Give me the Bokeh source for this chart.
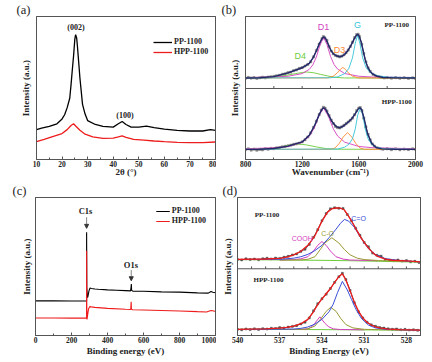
from bokeh.plotting import figure
from bokeh.layouts import column, row
from bokeh.models import Range1d, FixedTicker, Label, Legend, LegendItem, Span, Arrow, NormalHead, LinearAxis
from bokeh.embed import file_html
from bokeh.resources import INLINE

SERIF = "Liberation Serif"
SANS = "Liberation Sans"
FRAME = "#555555"

# ---------------- (a) XRD ----------------
a_ticks = [10, 20, 30, 40, 50, 60, 70, 80]
a_minor = [15, 25, 35, 45, 55, 65, 75]
a_x_pp = [10, 12, 15, 18, 20, 21, 22, 23, 23.5, 24, 24.5, 25, 25.3, 25.7, 26, 26.5, 27, 28, 29, 30, 33, 36, 40, 42, 43.5, 45, 47, 50, 53, 56, 60, 65, 70, 75, 78, 80]
a_y_pp = [30.7, 32.3, 34, 36.7, 41.7, 46, 53.3, 63, 76.7, 92, 106.7, 124, 128.3, 125, 116.7, 100, 83.3, 56.7, 46.7, 40, 36, 34, 33.3, 36.7, 39, 36, 33.3, 33.3, 34.3, 32.7, 31.3, 30, 29.3, 29.3, 30.7, 30]
a_x_hpp = [10, 13, 16, 20, 22, 23.5, 24.5, 25.5, 27, 29, 32, 36, 40, 42, 43.5, 45, 48, 52, 56, 60, 65, 70, 75, 80]
a_y_hpp = [18.3, 20.7, 23.3, 26.7, 30.7, 35, 36.7, 34, 30, 26, 23.3, 21.7, 22, 23.3, 24.3, 22.7, 20.7, 20, 19, 18.3, 17.7, 17.3, 17.3, 18]

# ---------------- (b) Raman ----------------
b_ticks = [800, 1200, 1600, 2000]
b_minor = [1000, 1400, 1800]
b_div_ticks = [1000, 1200, 1400, 1600, 1800]
b_top_x = [800, 820, 840, 860, 880, 900, 920, 940, 960, 980, 1000, 1020, 1040, 1060, 1080, 1100, 1120, 1140, 1160, 1180, 1200, 1220, 1240, 1260, 1280, 1300, 1320, 1340, 1350, 1360, 1375, 1390, 1405, 1420, 1435, 1450, 1465, 1480, 1495, 1510, 1525, 1540, 1555, 1570, 1585, 1595, 1605, 1620, 1635, 1650, 1665, 1680, 1700, 1720, 1740, 1760, 1780, 1800, 1830, 1860, 1890, 1920, 1950, 1980, 2000]
b_top_y = [82.4, 83.2, 82.6, 83.0, 82.3, 82.9, 83.4, 82.8, 83.6, 83.9, 84.3, 84.9, 85.3, 86.4, 86.9, 88.0, 88.6, 90.1, 90.8, 92.4, 93.2, 94.8, 96.5, 99.0, 104.0, 110.5, 117.0, 122.5, 124.6, 123.4, 120.8, 114.5, 110.0, 107.2, 105.6, 104.8, 104.0, 104.9, 106.2, 108.4, 111.0, 114.6, 119.0, 123.5, 126.6, 127.0, 124.5, 117.0, 107.5, 99.0, 93.0, 89.3, 86.4, 84.6, 83.8, 83.2, 82.7, 83.1, 82.5, 83.0, 82.4, 82.9, 82.3, 82.8, 82.2]
b_top_fit_x = [800, 900, 1000, 1100, 1200, 1250, 1280, 1300, 1320, 1340, 1351, 1365, 1380, 1400, 1420, 1440, 1460, 1480, 1500, 1520, 1540, 1560, 1575, 1590, 1600, 1615, 1630, 1645, 1660, 1680, 1700, 1730, 1770, 1850, 2000]
b_top_fit_y = [82.7, 82.9, 84.0, 87.8, 93.0, 97.5, 103.8, 110.0, 117.0, 122.5, 124.3, 122.8, 118.0, 111.5, 107.2, 105.2, 104.4, 104.6, 106.5, 110.0, 114.5, 120.0, 124.5, 126.8, 125.8, 120.0, 110.5, 101.0, 94.5, 89.3, 86.5, 84.4, 83.2, 82.8, 82.6]
b_top_d4_x = [800, 950, 1050, 1100, 1150, 1200, 1233, 1280, 1330, 1380, 1430, 1500, 2000]
b_top_d4_y = [82.7, 83.0, 84.3, 85.7, 87.0, 88.2, 88.7, 88.0, 86.3, 84.7, 83.3, 82.7, 82.7]
b_top_d1_x = [800, 1000, 1100, 1200, 1250, 1275, 1300, 1325, 1351, 1375, 1400, 1425, 1450, 1500, 1600, 1700, 2000]
b_top_d1_y = [83.1, 83.6, 84.4, 87.1, 91.4, 95.9, 103.8, 115.6, 123.7, 116.6, 104.6, 96.4, 91.7, 87.2, 84.4, 83.6, 83.1]
b_top_d3_x = [800, 1380, 1420, 1450, 1470, 1487, 1505, 1525, 1555, 1600, 2000]
b_top_d3_y = [82.7, 82.7, 84.5, 88.0, 91.5, 93.3, 91.5, 88.0, 84.5, 82.7, 82.7]
b_top_g_x = [800, 1400, 1450, 1500, 1530, 1555, 1575, 1591, 1607, 1627, 1650, 1680, 1730, 1800, 2000]
b_top_g_y = [82.7, 82.9, 83.8, 87.0, 92.5, 103.0, 118.0, 126.0, 118.0, 103.0, 93.5, 88.2, 85.0, 83.5, 82.9]

b_bot_x = [800, 820, 840, 860, 880, 900, 920, 940, 960, 980, 1000, 1020, 1040, 1060, 1080, 1100, 1120, 1140, 1160, 1180, 1200, 1220, 1240, 1260, 1280, 1300, 1320, 1335, 1350, 1362, 1375, 1390, 1405, 1420, 1435, 1450, 1465, 1480, 1495, 1510, 1525, 1540, 1555, 1570, 1585, 1600, 1610, 1622, 1635, 1650, 1665, 1680, 1695, 1710, 1730, 1750, 1770, 1800, 1830, 1860, 1890, 1920, 1950, 1980, 2000]
b_bot_y = [10.0, 10.8, 9.6, 10.5, 9.4, 10.2, 9.8, 10.9, 10.4, 11.2, 11.0, 11.8, 12.0, 12.9, 13.3, 13.9, 14.6, 15.4, 15.8, 16.6, 17.9, 20.0, 22.8, 27.0, 32.5, 38.8, 45.5, 50.2, 53.0, 52.0, 49.2, 44.5, 40.0, 36.4, 33.6, 32.4, 32.0, 33.2, 34.6, 36.3, 38.0, 39.8, 42.0, 45.4, 49.5, 52.2, 52.6, 49.5, 42.0, 33.0, 25.5, 19.8, 15.8, 13.5, 11.8, 11.0, 10.4, 10.8, 10.0, 10.7, 9.9, 10.6, 10.1, 10.8, 10.2]
b_bot_fit_x = [800, 900, 1000, 1100, 1200, 1250, 1290, 1320, 1340, 1351, 1365, 1385, 1410, 1440, 1465, 1490, 1520, 1550, 1575, 1595, 1608, 1620, 1640, 1660, 1690, 1720, 1760, 1850, 2000]
b_bot_fit_y = [10.3, 10.4, 11.2, 13.6, 17.8, 24.5, 35.0, 45.5, 51.0, 52.4, 51.0, 45.5, 38.5, 33.4, 32.2, 33.8, 37.2, 41.3, 46.5, 51.2, 52.5, 50.5, 40.0, 27.0, 16.5, 12.3, 10.8, 10.4, 10.3]
b_bot_d4_x = [800, 950, 1050, 1120, 1174, 1230, 1300, 1370, 1450, 2000]
b_bot_d4_y = [10.3, 10.8, 12.5, 14.6, 15.7, 14.8, 12.8, 11.0, 10.4, 10.3]
b_bot_d1_x = [800, 1000, 1100, 1200, 1250, 1285, 1320, 1351, 1385, 1420, 1450, 1500, 1600, 1700, 2000]
b_bot_d1_y = [10.9, 11.9, 13.2, 17.4, 23.5, 31.9, 45.0, 52.3, 43.9, 31.0, 23.8, 17.6, 13.2, 11.9, 10.9]
b_bot_d3_x = [800, 1400, 1430, 1460, 1490, 1520, 1550, 1580, 1610, 1640, 2000]
b_bot_d3_y = [10.3, 10.3, 11.5, 16.0, 22.8, 27.3, 22.8, 16.0, 11.5, 10.3, 10.3]
b_bot_g_x = [800, 1450, 1500, 1530, 1555, 1575, 1592, 1610, 1628, 1645, 1665, 1690, 1720, 1780, 2000]
b_bot_g_y = [10.3, 10.6, 12.5, 15.5, 21.0, 31.0, 45.0, 52.3, 45.0, 31.0, 21.0, 15.5, 12.5, 10.8, 10.3]

# ---------------- (c) XPS survey ----------------
c_ticks = [0, 200, 400, 600, 800, 1000]
c_minor = [100, 300, 500, 700, 900]
c_x_pp = [0, 100, 200, 283.8, 284.0, 285.0, 286.5, 289, 292, 297, 303, 310, 330, 350, 400, 450, 500, 528, 531, 532.5, 534, 540, 600, 700, 800, 900, 960, 975, 985, 1000]
c_y_pp = [35.7, 35.8, 35.6, 35.7, 106.5, 50, 45, 39, 41, 46, 49, 48.5, 48, 47.7, 47, 46.7, 46.3, 46, 50, 53, 46.5, 45.8, 45.7, 45, 44.7, 44, 43.7, 45.3, 44.6, 44]
c_x_hpp = [0, 100, 200, 283.6, 284.0, 285.0, 286.5, 288, 291, 295, 302, 310, 330, 400, 500, 529, 531.5, 533, 540, 600, 700, 800, 900, 950, 975, 985, 1000]
c_y_hpp = [18, 18.1, 17.9, 18, 87.3, 30, 16.5, 19, 23, 27.5, 29.8, 29.5, 29, 28, 27, 26.8, 34.7, 27, 26.6, 26.3, 25.8, 25.3, 24.6, 24.3, 25.8, 25.5, 24.7]

# ---------------- (d) O1s ----------------
d_ticks = [540, 537, 534, 531, 528]
d_minor = [539, 538, 536, 535, 533, 532, 530, 529, 527]
d_div_ticks = [539, 538, 537, 536, 535, 534, 533, 532, 531, 530, 529, 528]
d_top_x = [540.0, 539.7, 539.4, 539.1, 538.8, 538.5, 538.2, 537.9, 537.6, 537.3, 537.0, 536.7, 536.4, 536.1, 535.8, 535.5, 535.2, 534.9, 534.6, 534.3, 534.0, 533.7, 533.4, 533.1, 532.8, 532.5, 532.2, 531.9, 531.6, 531.3, 531.0, 530.7, 530.4, 530.1, 529.8, 529.5, 529.2, 528.9, 528.6, 528.3, 528.0, 527.7, 527.4, 527.1]
d_top_y = [80.2, 79.6, 80.8, 80.0, 80.6, 79.8, 80.9, 81.4, 80.7, 81.6, 81.2, 82.5, 83.4, 84.9, 86.0, 88.6, 90.8, 96.0, 103.5, 111.5, 121.0, 128.5, 133.5, 134.6, 134.0, 133.8, 127.5, 121.0, 113.0, 105.5, 98.0, 93.5, 86.8, 84.5, 83.6, 80.2, 79.5, 78.8, 79.6, 78.4, 78.9, 77.6, 78.2, 76.9]
d_top_fit_x = [540, 538, 537, 536.5, 536, 535.5, 535, 534.5, 534, 533.6, 533.3, 533.0, 532.7, 532.4, 532.1, 531.8, 531.5, 531.2, 530.9, 530.6, 530.3, 530.0, 529.5, 529, 528, 527]
d_top_fit_y = [80.2, 80.6, 81.2, 82.6, 85.0, 88.8, 95.0, 105.0, 120.5, 130.0, 133.5, 134.5, 134.3, 132.2, 125.5, 118.0, 110.0, 102.3, 96.0, 90.5, 86.0, 83.0, 80.5, 79.3, 78.6, 77.6]
d_top_base_x = [540, 537, 534, 532, 530, 528, 527]
d_top_base_y = [80.0, 79.6, 79.2, 78.8, 78.2, 77.6, 77.3]
d_top_co_x = [540, 537, 536, 535.5, 535, 534.5, 534, 533.5, 533, 532.7, 532.4, 532.1, 531.7, 531.2, 530.7, 530.2, 529.5, 528.5, 527]
d_top_co_y = [80.0, 80.3, 81.5, 83.0, 85.5, 89.5, 95.0, 103.0, 112.0, 118.0, 122.3, 120.5, 114.0, 102.0, 91.5, 85.0, 81.0, 79.0, 77.5]
d_top_c_o_x = [537, 535.5, 535, 534.5, 534.1, 533.8, 533.3, 532.8, 532.4, 532, 531.5, 531, 530, 528]
d_top_c_o_y = [79.5, 79.6, 80.3, 83.0, 91.0, 97.5, 103.0, 97.5, 90.5, 85.0, 81.5, 80.0, 79.0, 78.0]
d_top_cooh_x = [537, 536, 535.5, 535, 534.6, 534.3, 534, 533.7, 533.4, 533, 532.5, 532, 530]
d_top_cooh_y = [79.6, 80.0, 80.8, 83.0, 89.0, 95.0, 99.0, 95.0, 89.0, 83.0, 80.5, 79.5, 78.8]

d_bot_x = [540.0, 539.7, 539.4, 539.1, 538.8, 538.5, 538.2, 537.9, 537.6, 537.3, 537.0, 536.7, 536.4, 536.1, 535.8, 535.5, 535.2, 534.9, 534.6, 534.3, 534.0, 533.7, 533.4, 533.1, 532.8, 532.55, 532.3, 532.0, 531.7, 531.4, 531.1, 530.8, 530.5, 530.2, 529.9, 529.6, 529.3, 529.0, 528.7, 528.4, 528.1, 527.8, 527.5, 527.2]
d_bot_y = [6.5, 6.0, 6.9, 6.2, 7.0, 6.4, 7.2, 6.8, 7.6, 7.4, 8.3, 8.0, 8.9, 9.6, 10.4, 12.2, 14.0, 18.5, 26.0, 33.5, 38.8, 43.5, 49.5, 56.0, 62.0, 65.5, 59.0, 47.5, 34.5, 25.0, 18.5, 14.0, 11.2, 9.8, 8.4, 7.9, 7.0, 6.6, 6.9, 6.1, 6.5, 5.7, 6.0, 5.4]
d_bot_fit_x = [540, 538, 537, 536.5, 536, 535.5, 535, 534.6, 534.3, 534, 533.7, 533.4, 533.1, 532.8, 532.55, 532.3, 532.0, 531.7, 531.4, 531.1, 530.8, 530.5, 530.2, 529.8, 529.3, 528.5, 527]
d_bot_fit_y = [6.4, 6.9, 7.8, 8.6, 9.9, 12.4, 17.0, 25.0, 32.5, 38.5, 44.0, 49.5, 56.0, 62.0, 65.0, 58.5, 47.0, 35.0, 25.5, 18.5, 14.0, 11.0, 9.2, 7.8, 6.8, 6.2, 5.6]
d_bot_base_x = [540, 534, 530, 527]
d_bot_base_y = [6.5, 6.2, 5.8, 5.5]
d_bot_co_x = [540, 536, 535.5, 535, 534.5, 534, 533.5, 533.2, 532.9, 532.55, 532.2, 531.9, 531.6, 531.2, 530.7, 530.2, 529.5, 528, 527]
d_bot_co_y = [6.3, 6.8, 7.5, 9.0, 12.0, 17.0, 25.0, 33.0, 45.0, 57.0, 48.0, 38.0, 28.0, 18.0, 11.0, 8.0, 6.5, 5.8, 5.5]
d_bot_c_o_x = [537, 535.5, 535, 534.5, 534.06, 533.7, 533.38, 533.0, 532.67, 532.3, 531.8, 531, 530, 528]
d_bot_c_o_y = [6.3, 6.4, 7.0, 10.0, 18.0, 25.5, 29.7, 25.5, 18.0, 11.5, 8.0, 6.5, 6.2, 5.8]
d_bot_cooh_x = [537, 535.5, 535, 534.7, 534.5, 534.15, 533.8, 533.55, 533.2, 532.7, 531]
d_bot_cooh_y = [6.3, 6.4, 7.0, 9.5, 13.0, 19.7, 13.0, 9.5, 7.0, 6.3, 6.0]

series_names = ["PP-1100", "HPP-1100"]
panel_letters = ["(a)", "(b)", "(c)", "(d)"]

C_MAG = "#d43fbf"
C_GRN = "#6ccc3a"
C_ORG = "#ff8a33"
C_CYN = "#35c4d8"
C_NAVY = "#23296b"
C_RED = "#ee1c1c"
C_BLUE = "#3b4fd8"
C_OLIVE = "#9b9a35"


def base(width, height, xr, yr, left, right, top, bottom, letter, offset):
    p = figure(width=width, height=height, x_range=xr, y_range=yr,
               output_backend="svg", toolbar_location=None,
               min_border_left=left, min_border_right=right,
               min_border_top=top, min_border_bottom=bottom)
    p.xgrid.visible = False
    p.ygrid.visible = False
    p.outline_line_color = FRAME
    p.outline_line_width = 1
    p.title.text = letter
    p.title.align = "left"
    p.title.offset = offset
    p.title.standoff = 0
    p.title.text_font = SERIF
    p.title.text_font_style = "normal"
    p.title.text_font_size = "12.5px"
    p.title.text_line_height = 0.9
    p.title.text_color = "#222222"
    for side in ("right", "above"):
        ax = LinearAxis(ticker=FixedTicker(ticks=[]), axis_line_color=FRAME,
                        major_tick_in=0, major_tick_out=0, minor_tick_in=0, minor_tick_out=0,
                        major_label_standoff=0, axis_label_standoff=0)
        p.add_layout(ax, side)
    return p


def style(p, xlabel, ticks, minor, ylab_standoff, xlab_standoff):
    xa = p.below[0]
    xa.ticker = FixedTicker(ticks=ticks, minor_ticks=minor)
    xa.axis_label = xlabel
    xa.axis_line_color = FRAME
    xa.major_tick_in = 3
    xa.major_tick_out = 0
    xa.minor_tick_in = 2
    xa.minor_tick_out = 0
    xa.major_tick_line_color = FRAME
    xa.minor_tick_line_color = FRAME
    xa.major_label_standoff = 1
    xa.major_label_text_font = SERIF
    xa.major_label_text_font_style = "bold"
    xa.major_label_text_font_size = "7.5px"
    xa.major_label_text_line_height = 1.0
    xa.major_label_text_color = "#222222"
    xa.axis_label_standoff = xlab_standoff
    xa.axis_label_text_font = SERIF
    xa.axis_label_text_font_style = "bold"
    xa.axis_label_text_font_size = "9px"
    xa.axis_label_text_line_height = 1.0
    xa.axis_label_text_color = "#222222"
    ya = p.left[0]
    ya.ticker = FixedTicker(ticks=[])
    ya.axis_line_color = FRAME
    ya.major_tick_line_color = None
    ya.minor_tick_line_color = None
    ya.major_tick_in = 0
    ya.major_tick_out = 0
    ya.minor_tick_out = 0
    ya.major_label_standoff = 0
    ya.axis_label = "Intensity (a.u.)"
    ya.axis_label_standoff = ylab_standoff
    ya.axis_label_text_font = SERIF
    ya.axis_label_text_font_style = "bold"
    ya.axis_label_text_font_size = "9px"
    ya.axis_label_text_color = "#222222"


def txt(p, x, y, s, font=SERIF, size="8px", color="#222222", bold=True):
    p.add_layout(Label(x=x, y=y, text=s, text_font=font, text_font_size=size,
                       text_color=color, text_font_style="bold" if bold else "normal",
                       text_align="center", text_baseline="middle"))


def legend(p, r1, r2, gw, location, margin, padding):
    lg = Legend(items=[LegendItem(label=series_names[0], renderers=[r1]),
                       LegendItem(label=series_names[1], renderers=[r2])],
                location=location, glyph_width=gw, glyph_height=8, label_height=8,
                label_standoff=2, spacing=1, padding=padding, margin=margin,
                border_line_alpha=0, background_fill_alpha=0,
                label_text_font=SERIF, label_text_font_style="bold",
                label_text_font_size="8px", label_text_color="#222222")
    p.add_layout(lg)


# ---- panel a ----
pa = base(216, 181, Range1d(10, 80), Range1d(0, 147), 36, 1, 12, 21, panel_letters[0], -20)
style(pa, "2θ (°)", a_ticks, a_minor, 6, -3)
ra1 = pa.line(a_x_pp, a_y_pp, line_color="black", line_width=1.3)
ra2 = pa.line(a_x_hpp, a_y_hpp, line_color=C_RED, line_width=1.3)
legend(pa, ra1, ra2, 19, (117, 103), 0, 0)
txt(pa, 25.4, 136, "(002)")
txt(pa, 44.6, 45, "(100)")

# ---- panel b ----
pb = base(216, 181, Range1d(800, 2000), Range1d(0, 145), 29, 17, 13, 22, panel_letters[1], -24)
style(pb, "Wavenumber (cm⁻¹)", b_ticks, b_minor, 6, -3)
pb.add_layout(Span(location=72, dimension="width", line_color=FRAME, line_width=1))
pb.segment(x0=b_div_ticks, y0=[72] * len(b_div_ticks), x1=b_div_ticks, y1=[74.5] * len(b_div_ticks), line_color=FRAME)
for xs, ys in ((b_top_x, b_top_y), (b_bot_x, b_bot_y)):
    pb.line(xs, ys, line_color="#333333", line_width=0.8)
    pb.scatter(xs, ys, marker="square", size=2.2, fill_color="#888888", line_color="#666666", line_width=0.4)
for (xs, ys, c) in ((b_top_d4_x, b_top_d4_y, C_GRN), (b_top_d1_x, b_top_d1_y, C_MAG),
                    (b_top_d3_x, b_top_d3_y, C_ORG), (b_top_g_x, b_top_g_y, C_CYN),
                    (b_bot_d4_x, b_bot_d4_y, C_GRN), (b_bot_d1_x, b_bot_d1_y, C_MAG),
                    (b_bot_d3_x, b_bot_d3_y, C_ORG), (b_bot_g_x, b_bot_g_y, C_CYN)):
    pb.line(xs, ys, line_color=c, line_width=0.9)
pb.line(b_top_fit_x, b_top_fit_y, line_color=C_NAVY, line_width=1.4)
pb.line(b_bot_fit_x, b_bot_fit_y, line_color=C_NAVY, line_width=1.4)
txt(pb, 1351, 134.5, "D1", font=SANS, size="9px", color=C_MAG, bold=False)
txt(pb, 1591, 136, "G", font=SANS, size="9px", color=C_CYN, bold=False)
txt(pb, 1463, 111.5, "D3", font=SANS, size="9px", color=C_ORG, bold=False)
txt(pb, 1186, 104.5, "D4", font=SANS, size="9px", color=C_GRN, bold=False)
txt(pb, 1868, 136, "PP-1100", size="7px")
txt(pb, 1868, 58, "HPP-1100", size="7px")

# ---- panel c ----
pc = base(216, 181, Range1d(0, 1000), Range1d(0, 142.3), 35, 1, 11, 26, panel_letters[2], -23)
style(pc, "Binding energy (eV)", c_ticks, c_minor, 4, 0)
rc1 = pc.line(c_x_pp, c_y_pp, line_color="black", line_width=1.1)
rc2 = pc.line(c_x_hpp, c_y_hpp, line_color=C_RED, line_width=1.1)
legend(pc, rc1, rc2, 14, "top_right", 6, 3)
txt(pc, 278, 128.5, "C1s", size="8.5px")
txt(pc, 530, 73, "O1s", size="8.5px")
pc.add_layout(Arrow(x_start=284, y_start=122, x_end=284, y_end=110.5,
                    line_color="#666666", line_width=0.8,
                    end=NormalHead(size=4, fill_color="#333333", line_color="#333333")))
pc.add_layout(Arrow(x_start=532, y_start=67.5, x_end=532, y_end=56.5,
                    line_color="#666666", line_width=0.8,
                    end=NormalHead(size=4, fill_color="#333333", line_color="#333333")))

# ---- panel d ----
pd_ = base(216, 181, Range1d(540, 527), Range1d(0, 145.4), 21, 12, 8, 27, panel_letters[3], -15)
style(pd_, "Binding Energy (eV)", d_ticks, d_minor, 5, 0)
pd_.add_layout(Span(location=70.3, dimension="width", line_color=FRAME, line_width=1))
pd_.segment(x0=d_div_ticks, y0=[70.3] * len(d_div_ticks), x1=d_div_ticks, y1=[72.8] * len(d_div_ticks), line_color=FRAME)
for xs, ys in ((d_top_x, d_top_y), (d_bot_x, d_bot_y)):
    pd_.line(xs, ys, line_color="#222222", line_width=0.8)
    pd_.scatter(xs, ys, marker="square", size=2, fill_color="#555555", line_color="#444444", line_width=0.4)
for (xs, ys, c) in ((d_top_base_x, d_top_base_y, C_GRN), (d_bot_base_x, d_bot_base_y, C_GRN),
                    (d_top_cooh_x, d_top_cooh_y, C_MAG), (d_bot_cooh_x, d_bot_cooh_y, C_MAG),
                    (d_top_c_o_x, d_top_c_o_y, C_OLIVE), (d_bot_c_o_x, d_bot_c_o_y, C_OLIVE),
                    (d_top_co_x, d_top_co_y, C_BLUE), (d_bot_co_x, d_bot_co_y, C_BLUE)):
    pd_.line(xs, ys, line_color=c, line_width=1)
pd_.line(d_top_fit_x, d_top_fit_y, line_color=C_RED, line_width=1.3)
pd_.line(d_bot_fit_x, d_bot_fit_y, line_color=C_RED, line_width=1.3)
txt(pd_, 537.9, 126.5, "PP-1100", size="7px")
txt(pd_, 537.8, 58, "HPP-1100", size="7px")
txt(pd_, 531.4, 123, "C=O", font=SANS, size="7px", color=C_BLUE, bold=False)
txt(pd_, 533.6, 107.5, "C-O", font=SANS, size="7px", color=C_OLIVE, bold=False)
txt(pd_, 535.4, 102.5, "COOH", font=SANS, size="7px", color=C_MAG, bold=False)

layout = column(row(pa, pb), row(pc, pd_))
open("out.html", "w").write(file_html(layout, INLINE))
